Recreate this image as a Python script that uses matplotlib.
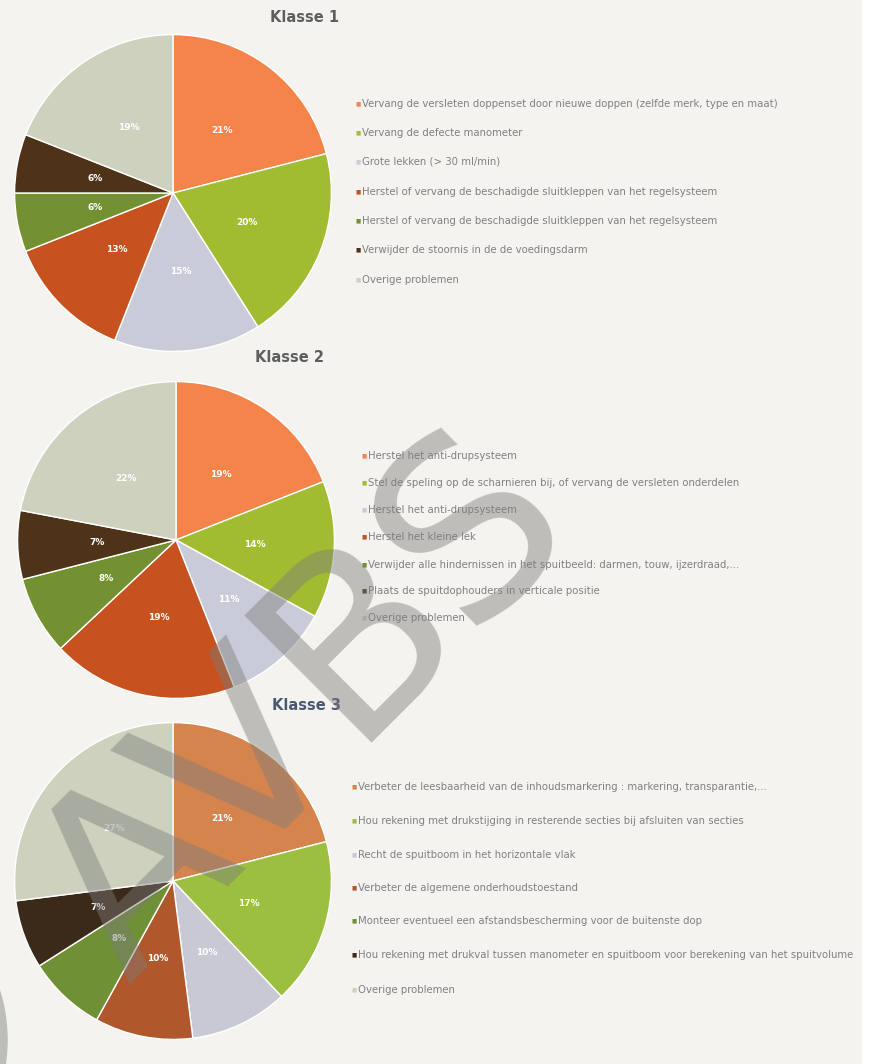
import matplotlib.pyplot as plt
from matplotlib.patches import Rectangle, Circle

W, H = 870, 1064
BG = '#f4f3ef'

# data
titles = ['Klasse 1', 'Klasse 2', 'Klasse 3']

k1_values = [21, 20, 15, 13, 6, 6, 19]
k1_labels = [
    'Vervang de versleten doppenset door nieuwe doppen (zelfde merk, type en maat)',
    'Vervang de defecte manometer',
    'Grote lekken (> 30 ml/min)',
    'Herstel of vervang de beschadigde sluitkleppen van het regelsysteem',
    'Herstel of vervang de beschadigde sluitkleppen van het regelsysteem',
    'Verwijder de stoornis in de de voedingsdarm',
    'Overige problemen',
]

k2_values = [19, 14, 11, 19, 8, 7, 22]
k2_labels = [
    'Herstel het anti-drupsysteem',
    'Stel de speling op de scharnieren bij, of vervang de versleten onderdelen',
    'Herstel het anti-drupsysteem',
    'Herstel het kleine lek',
    'Verwijder alle hindernissen in het spuitbeeld: darmen, touw, ijzerdraad,...',
    'Plaats de spuitdophouders in verticale positie',
    'Overige problemen',
]

k3_values = [21, 17, 10, 10, 8, 7, 27]
k3_labels = [
    'Verbeter de leesbaarheid van de inhoudsmarkering : markering, transparantie,...',
    'Hou rekening met drukstijging in resterende secties bij afsluiten van secties',
    'Recht de spuitboom in het horizontale vlak',
    'Verbeter de algemene onderhoudstoestand',
    'Monteer eventueel een afstandsbescherming voor de buitenste dop',
    'Hou rekening met drukval tussen manometer en spuitboom voor berekening van het spuitvolume',
    'Overige problemen',
]

colors = ['#f4844a', '#a2bc32', '#c9ccd8', '#c8521f', '#739131', '#4e3318', '#cdd1bd']
colors3 = ['#d6844e', '#9cbf3f', '#c8c9d4', '#b0572c', '#6f9034', '#3b2a19', '#cdd1bd']

# layout in pixels: pie centre, title pos, legend x, legend rows
layout = [
    dict(cx=173, cy=193, title=(305, 18), tcol='#5e5e5e', lx=358,
         rows=[104, 133, 162, 192, 221, 250, 280]),
    dict(cx=176, cy=540, title=(290, 357), tcol='#5e5e5e', lx=364,
         rows=[456, 483, 510, 537, 565, 591, 618]),
    dict(cx=173, cy=881, title=(307, 706), tcol='#4c5772', lx=354,
         rows=[787, 821, 855, 888, 921, 955, 990]),
]
R = 160

fig = plt.figure(figsize=(W / 100, H / 100), dpi=100, facecolor=BG)
fig.add_artist(Rectangle((862 / W, 0), 8 / W, 1, transform=fig.transFigure,
                         color='white', zorder=0))

data = [(k1_values, k1_labels, colors), (k2_values, k2_labels, colors),
        (k3_values, k3_labels, colors3)]

for (vals, labs, cols), lay, title in zip(data, layout, titles):
    ax = fig.add_axes([(lay['cx'] - R) / W, (H - lay['cy'] - R) / H,
                       2 * R / W, 2 * R / H])
    ax.pie(vals, colors=cols, startangle=90, counterclock=False,
           autopct='%d%%', pctdistance=0.5, radius=1,
           wedgeprops=dict(edgecolor='white', linewidth=1),
           textprops=dict(color='white', fontsize=6.5, fontweight='bold'))
    ax.set_xlim(-1.01, 1.01)
    ax.set_ylim(-1.01, 1.01)
    ax.axis('off')

    tx, ty = lay['title']
    fig.text(tx / W, 1 - ty / H, title, ha='center', va='center',
             fontsize=10.5, fontweight='bold', color=lay['tcol'])

    for lab, col, y in zip(labs, cols, lay['rows']):
        fig.text(lay['lx'] / W, 1 - y / H, '\u25a0', ha='center', va='center',
                 fontsize=4, color=col)
        fig.text((lay['lx'] + 4) / W, 1 - y / H, lab, ha='left', va='center',
                 fontsize=7.3, color='#808080')

# watermark
over = fig.add_axes([0, 0, 1, 1], zorder=10)
over.set_xlim(0, W)
over.set_ylim(H, 0)
over.axis('off')
over.patch.set_alpha(0)
over.add_patch(Circle((-160, 1040), 158, fill=False, lw=14, ec='#7c7c7a', alpha=0.45))
over.text(307, 710, 'AVBS', ha='center', va='center',
          rotation=45, fontsize=177, color='#7c7c7a', alpha=0.45,
          rotation_mode='anchor')

fig.savefig('out.png', dpi=100, facecolor=BG)
